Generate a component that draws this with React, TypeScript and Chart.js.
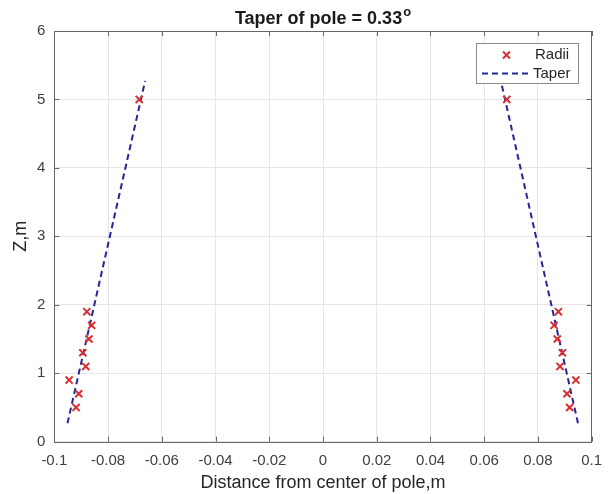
import React, { useEffect, useRef } from "react";
import { Chart, registerables } from "chart.js";

Chart.register(...registerables);

// ---- data ----
const RADII_Z = [0.5, 0.7, 0.9, 1.1, 1.3, 1.5, 1.7, 1.9, 5.0];
const RADII_LEFT_X = [-0.0919, -0.0909, -0.0945, -0.0883, -0.0894, -0.0871, -0.0861, -0.0879, -0.0684];
const RADII_RIGHT_X = [0.0918, 0.0908, 0.0941, 0.0882, 0.0891, 0.0872, 0.086, 0.0876, 0.0684];

const TAPER_Z = [0.27, 5.27];
const TAPER_LEFT_X = [-0.0951, -0.0662];
const TAPER_RIGHT_X = [0.0949, 0.0662];

const X_TICKS = [-0.1, -0.08, -0.06, -0.04, -0.02, 0, 0.02, 0.04, 0.06, 0.08, 0.1];
const X_TICK_LABELS = ["-0.1", "-0.08", "-0.06", "-0.04", "-0.02", "0", "0.02", "0.04", "0.06", "0.08", "0.1"];
const Y_TICKS = [0, 1, 2, 3, 4, 5, 6];
const Y_TICK_LABELS = ["0", "1", "2", "3", "4", "5", "6"];

const TITLE_MAIN = "Taper of pole = 0.33";
const TITLE_SUP = "o";
const X_TITLE = "Distance from center of pole,m";
const Y_TITLE = "Z,m";
const LEGEND_LABELS = ["Radii", "Taper"];

const FONT = '"Liberation Sans", Arial, Helvetica, sans-serif';
const RED = "#d83030";
const BLUE = "#25259a";

const radiiPoints = [
  ...RADII_Z.map((z, i) => ({ x: RADII_LEFT_X[i], y: z })),
  ...RADII_Z.map((z, i) => ({ x: RADII_RIGHT_X[i], y: z })),
];

const taperPoints: any[] = [
  ...TAPER_Z.map((z, i) => ({ x: TAPER_LEFT_X[i], y: z })),
  { x: 0, y: null },
  ...TAPER_Z.map((z, i) => ({ x: TAPER_RIGHT_X[i], y: z })),
];

const framePlugin = {
  id: "matlabFrame",
  afterDraw(chart: any) {
    const { ctx, chartArea: a, scales } = chart;
    ctx.save();
    // title
    ctx.fillStyle = "#1a1a1a";
    ctx.textBaseline = "alphabetic";
    ctx.font = `bold 18px ${FONT}`;
    const mainW = ctx.measureText(TITLE_MAIN).width;
    ctx.font = `bold 13px ${FONT}`;
    const supW = ctx.measureText(TITLE_SUP).width;
    const cx = (a.left + a.right) / 2;
    const tx = cx - (mainW + supW + 1) / 2;
    ctx.font = `bold 18px ${FONT}`;
    ctx.textAlign = "left";
    ctx.fillText(TITLE_MAIN, tx, 23.5);
    ctx.font = `bold 13px ${FONT}`;
    ctx.fillText(TITLE_SUP, tx + mainW + 1, 16);

    ctx.strokeStyle = "#666666";
    ctx.lineWidth = 1;
    ctx.beginPath();
    ctx.rect(Math.round(a.left) + 0.5, Math.round(a.top) + 0.5, Math.round(a.right - a.left), Math.round(a.bottom - a.top));
    ctx.stroke();
    const tl = 5;
    ctx.beginPath();
    X_TICKS.forEach((v) => {
      const px = Math.round(scales.x.getPixelForValue(v)) + 0.5;
      ctx.moveTo(px, a.bottom);
      ctx.lineTo(px, a.bottom - tl);
      ctx.moveTo(px, a.top);
      ctx.lineTo(px, a.top + tl);
    });
    Y_TICKS.forEach((v) => {
      const py = Math.round(scales.y.getPixelForValue(v)) + 0.5;
      ctx.moveTo(a.left, py);
      ctx.lineTo(a.left + tl, py);
      ctx.moveTo(a.right, py);
      ctx.lineTo(a.right - tl, py);
    });
    ctx.stroke();

    // legend box
    const bx = 476.5, by = 43.5, bw = 102, bh = 40;
    ctx.fillStyle = "#ffffff";
    ctx.fillRect(bx, by, bw, bh);
    ctx.strokeStyle = "#8a8a8a";
    ctx.strokeRect(bx, by, bw, bh);

    // marker
    ctx.strokeStyle = RED;
    ctx.lineWidth = 2;
    const mx = 506.5, my = 55, mr = 3.5;
    ctx.beginPath();
    ctx.moveTo(mx - mr, my - mr);
    ctx.lineTo(mx + mr, my + mr);
    ctx.moveTo(mx - mr, my + mr);
    ctx.lineTo(mx + mr, my - mr);
    ctx.stroke();

    // dashed line
    ctx.strokeStyle = BLUE;
    ctx.lineWidth = 2;
    ctx.setLineDash([6, 4]);
    ctx.beginPath();
    ctx.moveTo(482, 73.5);
    ctx.lineTo(531, 73.5);
    ctx.stroke();
    ctx.setLineDash([]);

    ctx.fillStyle = "#262626";
    ctx.font = `15px ${FONT}`;
    ctx.textBaseline = "middle";
    ctx.textAlign = "left";
    ctx.fillText(LEGEND_LABELS[0], 535, 55);
    ctx.fillText(LEGEND_LABELS[1], 533, 73.5);
    ctx.restore();
  },
};

export default function App() {
  const ref = useRef<HTMLCanvasElement>(null);
  useEffect(() => {
    if (!ref.current) return;
    const chart = new Chart(ref.current, {
      type: "scatter",
      data: {
        datasets: [
          {
            label: "Radii",
            data: radiiPoints,
            pointStyle: "crossRot",
            pointRadius: 5,
            borderColor: RED,
            backgroundColor: RED,
            pointBorderWidth: 2,
            borderWidth: 2,
          } as any,
          {
            label: "Taper",
            data: taperPoints,
            showLine: true,
            spanGaps: false,
            borderColor: BLUE,
            borderWidth: 2,
            borderDash: [6, 4],
            pointRadius: 0,
            fill: false,
          } as any,
        ],
      },
      options: {
        responsive: false,
        animation: false,
        layout: { padding: { left: 0, right: 22.3, top: 31, bottom: 0 } },
        plugins: {
          legend: { display: false },
          tooltip: { enabled: false },
          title: { display: false },
        },
        scales: {
          x: {
            type: "linear",
            min: -0.1,
            max: 0.1,
            afterBuildTicks: (s: any) => {
              s.ticks = X_TICKS.map((v) => ({ value: v }));
            },
            afterFit: (s: any) => {
              s.height = 52.3;
            },
            ticks: {
              autoSkip: false,
              maxRotation: 0,
              padding: 10,
              color: "#404040",
              font: { family: FONT, size: 15 },
              callback: (_v: any, i: number) => X_TICK_LABELS[i],
            },
            grid: { color: "#e6e6e6", drawTicks: false },
            border: { display: false },
            title: {
              display: true,
              text: X_TITLE,
              color: "#262626",
              font: { family: FONT, size: 18 },
              padding: { top: 0, bottom: 0 },
            },
          },
          y: {
            type: "linear",
            min: 0,
            max: 6,
            afterBuildTicks: (s: any) => {
              s.ticks = Y_TICKS.map((v) => ({ value: v }));
            },
            afterFit: (s: any) => {
              s.width = 54.3;
            },
            ticks: {
              autoSkip: false,
              padding: 9,
              color: "#404040",
              font: { family: FONT, size: 15 },
              callback: (_v: any, i: number) => Y_TICK_LABELS[i],
            },
            grid: { color: "#e6e6e6", drawTicks: false },
            border: { display: false },
            title: {
              display: true,
              text: Y_TITLE,
              color: "#262626",
              font: { family: FONT, size: 18 },
              padding: { top: 10.5, bottom: 0 },
            },
          },
        },
      },
      plugins: [framePlugin],
    });
    return () => chart.destroy();
  }, []);
  return (
    <div style={{ position: "fixed", left: 0, top: 0, width: 614, height: 494, background: "#ffffff" }}>
      <canvas ref={ref} width={614} height={494} />
    </div>
  );
}
